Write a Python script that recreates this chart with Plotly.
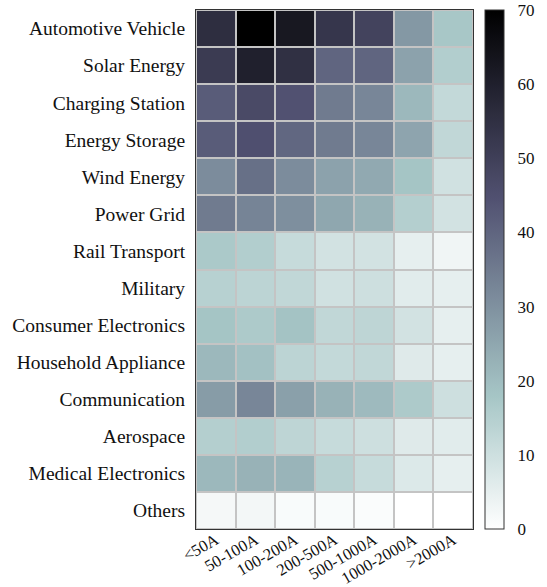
import numpy as np
import plotly.graph_objects as go

# Application rows (top to bottom) and current-range columns
applications = [
    "Automotive Vehicle", "Solar Energy", "Charging Station", "Energy Storage",
    "Wind Energy", "Power Grid", "Rail Transport", "Military",
    "Consumer Electronics", "Household Appliance", "Communication",
    "Aerospace", "Medical Electronics", "Others",
]
current_ranges = ["<50A", "50-100A", "100-200A", "200-500A",
                  "500-1000A", "1000-2000A", ">2000A"]

automotive = [55.5, 70.0, 62.5, 53.0, 49.0, 28.5, 17.5]
solar = [51.5, 60.0, 55.0, 40.0, 40.0, 26.0, 15.5]
charging = [42.0, 47.0, 44.5, 35.0, 32.5, 21.0, 12.0]
storage = [42.0, 45.0, 39.5, 35.0, 32.5, 25.5, 12.5]
wind = [31.0, 37.5, 31.0, 26.0, 24.5, 18.0, 9.5]
grid = [35.0, 33.0, 30.5, 25.0, 22.5, 15.0, 9.0]
rail = [17.0, 15.5, 11.5, 9.0, 9.0, 5.0, 3.0]
military = [14.5, 13.5, 12.5, 9.5, 10.0, 6.0, 5.0]
consumer = [18.0, 16.5, 18.5, 12.5, 13.0, 9.0, 5.0]
household = [21.0, 19.0, 13.5, 12.0, 12.5, 6.5, 5.0]
communication = [27.5, 32.5, 26.5, 22.5, 20.5, 16.5, 10.0]
aerospace = [15.0, 15.5, 13.0, 11.5, 10.0, 6.5, 6.0]
medical = [21.0, 22.5, 22.0, 14.5, 11.5, 7.0, 5.0]
others = [2.0, 2.3, 1.3, 1.3, 1.0, 0.0, 0.0]

z = [automotive, solar, charging, storage, wind, grid, rail, military,
     consumer, household, communication, aerospace, medical, others]

colorbar_ticks = [0, 10, 20, 30, 40, 50, 60, 70]


def bone(t):
    """Piecewise-linear 'bone' colormap."""
    r = np.interp(t, [0, 0.746032, 1], [0, 0.652778, 1])
    g = np.interp(t, [0, 0.365079, 0.746032, 1], [0, 0.319444, 0.777778, 1])
    b = np.interp(t, [0, 0.365079, 1], [0, 0.444444, 1])
    return "rgb(%d,%d,%d)" % (round(r * 255), round(g * 255), round(b * 255))


# reversed bone: 0 -> white, max -> black
stops = sorted(set(np.round(np.concatenate(
    [np.linspace(0, 1, 41), [1 - 0.746032, 1 - 0.365079]]), 6)))
bone_r = [[float(f), bone(1 - f)] for f in stops]

font_family = "Liberation Serif"

fig = go.Figure(go.Heatmap(
    z=z, x=current_ranges, y=applications,
    colorscale=bone_r, zmin=0, zmax=70,
    xgap=2, ygap=2,
    colorbar=dict(
        x=1.043, xanchor="left", y=0.5, yanchor="middle",
        len=1.0, lenmode="fraction", thickness=19,
        outlinewidth=1, outlinecolor="#333333",
        tickmode="array", tickvals=colorbar_ticks,
        ticktext=[str(v) for v in colorbar_ticks],
        ticklabeloverflow="allow",
        ticks="outside", ticklen=10, tickcolor="rgba(0,0,0,0)",
        tickfont=dict(family=font_family, size=17, color="#111"),
        ypad=0, xpad=0,
    ),
    hoverongaps=False,
))

fig.update_layout(
    width=547, height=587,
    margin=dict(l=196, r=74, t=10, b=58, autoexpand=False),
    paper_bgcolor="white",
    plot_bgcolor="#c4c4c4",
    font=dict(family=font_family, size=18, color="#111"),
)
fig.update_xaxes(
    tickangle=-30, ticks="", showgrid=False, zeroline=False, automargin=False,
    showline=True, mirror=True, linecolor="#333333", linewidth=1,
    tickfont=dict(family=font_family, size=16.5), ticklabelstandoff=-6,
)
fig.update_yaxes(
    autorange="reversed", ticks="", showgrid=False, zeroline=False,
    automargin=False,
    showline=True, mirror=True, linecolor="#333333", linewidth=1,
    tickfont=dict(family=font_family, size=19.5), ticklabelstandoff=6,
)

fig.write_html("out.html")
